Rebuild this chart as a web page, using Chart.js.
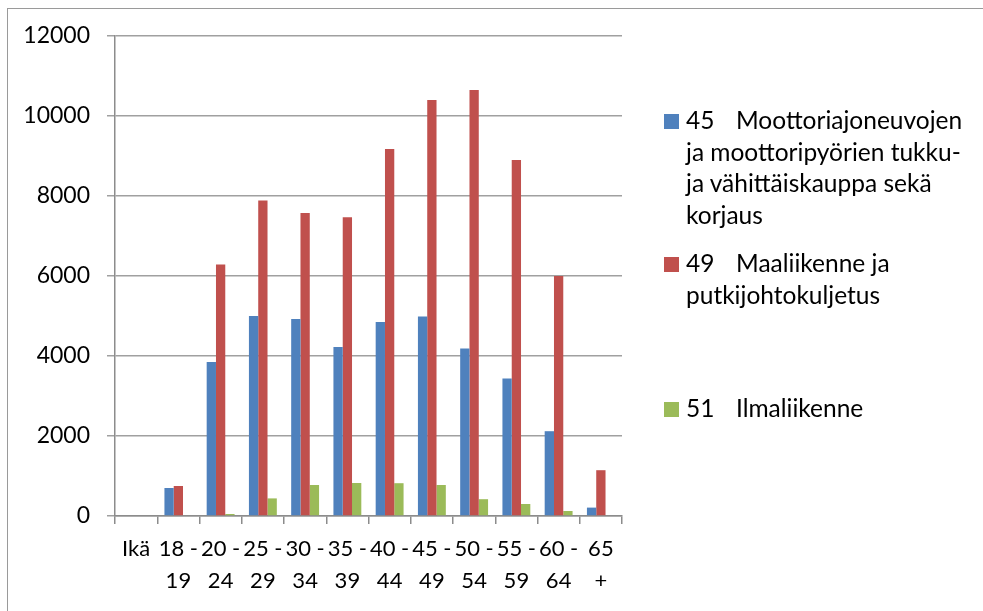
<!DOCTYPE html>
<html lang="fi">
<head>
<meta charset="utf-8">
<title>Ikäjakauma toimialoittain</title>
<script src="https://cdn.jsdelivr.net/npm/chart.js@4.4.1/dist/chart.umd.min.js"></script>
<style>
  html, body { margin: 0; padding: 0; background: #fff; }
  #wrap { position: relative; width: 983px; height: 611px; overflow: hidden; }
  #frame { position: absolute; left: 7px; top: 8px; width: 990px; height: 620px;
           border: 1.5px solid #9a9a9a; box-sizing: border-box; }
  canvas { position: absolute; left: 0; top: 0; }
  .leg { position: absolute; font-family: Lato, "Open Sans", sans-serif; font-size: 24.5px;
         line-height: 31.7px; color: #000; white-space: nowrap; }
  .leg .code { display: inline-block; width: 50px; }
  .mark { position: absolute; width: 15px; height: 15px; }
</style>
</head>
<body>
<div id="wrap">
  <div id="frame"></div>
  <canvas id="chart" width="983" height="611"></canvas>
  <div id="legend"></div>
</div>
<script>
// Age groups (two-line tick labels)
const categories = [
  ['Ikä'], ['18 -', '19'], ['20 -', '24'], ['25 -', '29'], ['30 -', '34'], ['35 -', '39'],
  ['40 -', '44'], ['45 -', '49'], ['50 -', '54'], ['55 -', '59'], ['60 -', '64'], ['65', '+']
];

// Employees per age group by industry
const motorTrade = [null, 700, 3850, 5000, 4925, 4225, 4850, 4985, 4190, 3440, 2120, 210];
const landTransport = [null, 750, 6290, 7890, 7575, 7470, 9175, 10400, 10650, 8900, 6000, 1145];
const airTransport = [null, 0, 50, 440, 775, 825, 820, 775, 420, 300, 125, 0];

// Industry codes and names (legend lines)
const seriesCodes = ['45', '49', '51'];
const seriesNames = [
  ['Moottoriajoneuvojen', 'ja moottoripyörien tukku-', 'ja vähittäiskauppa sekä', 'korjaus'],
  ['Maaliikenne ja', 'putkijohtokuljetus'],
  ['Ilmaliikenne']
];
const seriesColors = ['#4F81BD', '#C0504D', '#9BBB59'];

// Y axis
const yMin = 0, yMax = 12000, yStep = 2000;

const seriesValues = [motorTrade, landTransport, airTransport];
const FONT = { family: 'Lato, "Open Sans", sans-serif', size: 22, lineHeight: 32 / 22 };

const chart = new Chart(document.getElementById('chart'), {
  type: 'bar',
  data: {
    labels: categories,
    datasets: seriesValues.map((vals, i) => ({
      label: seriesCodes[i] + ' ' + seriesNames[i].join(' '),
      data: vals,
      backgroundColor: seriesColors[i],
      borderWidth: 0,
      categoryPercentage: 0.66,
      barPercentage: 1.0
    }))
  },
  options: {
    responsive: false,
    animation: false,
    devicePixelRatio: 1,
    layout: { padding: { left: 0, top: 36, right: 361, bottom: 0 } },
    plugins: { legend: { display: false }, tooltip: { enabled: false } },
    scales: {
      x: {
        grid: { offset: true, drawOnChartArea: false, drawTicks: true, tickLength: 8,
                color: '#8c8c8c', lineWidth: 1.5 },
        border: { color: '#8c8c8c', width: 1.5 },
        ticks: { color: '#000', font: FONT, padding: 9, maxRotation: 0, autoSkip: false },
        afterFit: s => { s.height = 611 - 516; }
      },
      y: {
        min: yMin, max: yMax,
        grid: { color: '#a0a0a0', lineWidth: 1.5, tickLength: 8, drawTicks: true },
        border: { color: '#8c8c8c', width: 1.5 },
        ticks: { stepSize: yStep, color: '#000', font: { family: FONT.family, size: 23 }, padding: 17,
                 callback: v => String(v) },
        afterFit: s => { s.width = 115; }
      }
    }
  }
});

// Legend built from the series arrays
const legend = document.getElementById('legend');
const legendTops = [104, 247, 392];
seriesCodes.forEach((code, i) => {
  const mark = document.createElement('div');
  mark.className = 'mark';
  mark.style.left = '664px';
  mark.style.top = (legendTops[i] + 10) + 'px';
  mark.style.background = seriesColors[i];
  legend.appendChild(mark);

  const txt = document.createElement('div');
  txt.className = 'leg';
  txt.style.left = '686px';
  txt.style.top = legendTops[i] + 'px';
  const first = document.createElement('div');
  const c = document.createElement('span');
  c.className = 'code';
  c.textContent = code;
  first.appendChild(c);
  first.appendChild(document.createTextNode(seriesNames[i][0]));
  txt.appendChild(first);
  seriesNames[i].slice(1).forEach(line => {
    const d = document.createElement('div');
    d.textContent = line;
    txt.appendChild(d);
  });
  legend.appendChild(txt);
});
</script>
</body>
</html>
